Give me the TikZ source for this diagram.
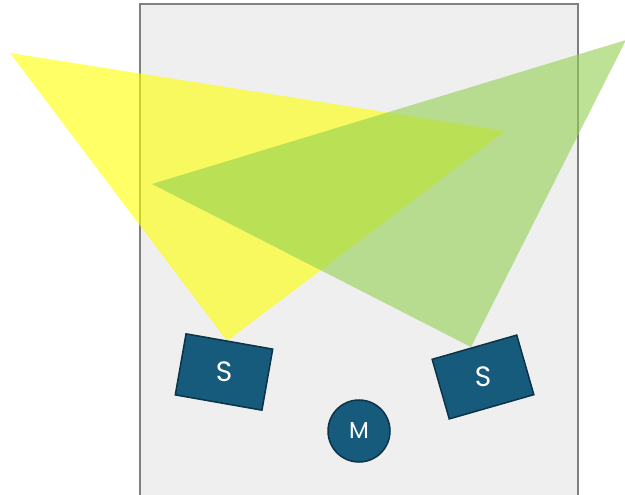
\documentclass[tikz,border=0pt]{standalone}
\usepackage{fontspec}
\setmainfont{Poppins}
\definecolor{roomfill}{HTML}{EFEFEF}
\definecolor{roomline}{HTML}{808080}
\definecolor{beamyellow}{HTML}{FFFF00}
\definecolor{beamgreen}{HTML}{92D050}
\definecolor{devfill}{HTML}{165B7C}
\definecolor{devline}{HTML}{0C3347}
\newcommand{\spkfont}{\fontsize{28}{30}\selectfont}
\newcommand{\micfont}{\fontsize{23}{25}\selectfont}
\tikzset{
  device/.style={draw=devline, line width=1.5pt, fill=devfill, text=white, inner sep=0pt},
  speaker/.style={device, rectangle, minimum width=88pt, minimum height=62pt},
  spklabel/.style={text=white, inner sep=0pt, font=\spkfont},
  mic/.style={device, circle, minimum size=62pt, font=\micfont},
  beam/.style={fill opacity=0.6}
}
\begin{document}
\begin{tikzpicture}[x=1pt,y=-1pt]
\useasboundingbox (0,0) rectangle (625,495);
\fill[white] (0,0) rectangle (625,495);
\draw[roomline, fill=roomfill, line width=2pt] (140,4) rectangle (578,500);
\fill[beamyellow, beam] (10,53) -- (505,131) -- (227,341) -- cycle;
\fill[beamgreen, beam] (626,40) -- (152,184) -- (471,347) -- cycle;
\node[speaker, rotate=-10] (s1) at (224,372) {};
\node[spklabel] (s1t) at (s1.center) {S};
\node[speaker, rotate=16] (s2) at (483,377) {};
\node[spklabel] (s2t) at (s2.center) {S};
\node[mic] (m) at (359,431) {M};
\end{tikzpicture}
\end{document}
